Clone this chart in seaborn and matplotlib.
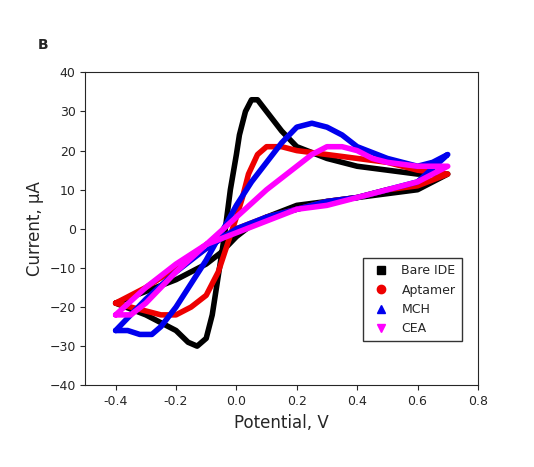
import matplotlib
matplotlib.use("Agg")
import matplotlib.pyplot as plt
import seaborn as sns
import pandas as pd
from matplotlib.lines import Line2D

bare_x = [-0.4,-0.3,-0.2,-0.1,-0.05,0.0,0.05,0.1,0.2,0.3,0.4,0.5,0.6,0.7, 0.7,0.6,0.5,0.4,0.3,0.2,0.15,0.1,0.07,0.05,0.03,0.01,0.0,-0.02,-0.04,-0.06,-0.08,-0.1,-0.13,-0.16,-0.2,-0.3,-0.4]
bare_y = [-19,-16,-13,-9,-6,-2,1,3,6,7,8,9,10,14, 14,14,15,16,18,21,25,30,33,33,30,24,19,10,-2,-12,-22,-28,-30,-29,-26,-22,-19]
apt_x = [-0.4,-0.3,-0.2,-0.1,0.0,0.1,0.2,0.3,0.4,0.5,0.6,0.7, 0.7,0.6,0.5,0.4,0.3,0.2,0.15,0.1,0.07,0.04,0.02,0.0,-0.03,-0.06,-0.1,-0.15,-0.2,-0.25,-0.3,-0.4]
apt_y = [-19,-15,-10,-5,0,3,5,7,8,10,11,14, 14,15,17,18,19,20,21,21,19,14,8,3,-4,-11,-17,-20,-22,-22,-21,-19]
mch_x = [-0.4,-0.3,-0.2,-0.1,0.0,0.1,0.2,0.3,0.4,0.5,0.6,0.7, 0.7,0.65,0.6,0.5,0.4,0.35,0.3,0.25,0.2,0.15,0.1,0.05,0.0,-0.05,-0.1,-0.15,-0.2,-0.25,-0.28,-0.32,-0.36,-0.4]
mch_y = [-26,-18,-11,-5,0,3,5,7,8,10,12,19, 19,17,16,18,21,24,26,27,26,22,17,12,6,-1,-8,-14,-20,-25,-27,-27,-26,-26]
cea_x = [-0.4,-0.3,-0.2,-0.1,0.0,0.1,0.2,0.3,0.4,0.5,0.6,0.7, 0.7,0.6,0.5,0.45,0.4,0.35,0.3,0.25,0.2,0.1,0.0,-0.1,-0.2,-0.25,-0.3,-0.35,-0.4]
cea_y = [-22,-15,-9,-4,-1,2,5,6,8,10,12,16, 16,16,17,18,20,21,21,19,16,10,3,-4,-11,-15,-19,-22,-22]

series = [("Bare IDE", bare_x, bare_y, "black", "s"),
          ("Aptamer", apt_x, apt_y, "#ee0000", "o"),
          ("MCH", mch_x, mch_y, "#0000ee", "^"),
          ("CEA", cea_x, cea_y, "#ff00ff", "v")]

sns.set_style("ticks")
fig, ax = plt.subplots(figsize=(5.34, 4.67), dpi=100)
fig.subplots_adjust(left=0.16, right=0.895, top=0.845, bottom=0.175)
for name, xs, ys, c, m in series:
    df = pd.DataFrame({"x": xs, "y": ys})
    sns.lineplot(data=df, x="x", y="y", sort=False, color=c, linewidth=4, ax=ax, estimator=None)
ax.set_xlim(-0.5, 0.8)
ax.set_ylim(-40, 40)
ax.set_xticks([-0.4,-0.2,0.0,0.2,0.4,0.6,0.8])
ax.set_xticklabels(["-0.4","-0.2","0.0","0.2","0.4","0.6","0.8"])
ax.set_yticks(range(-40, 41, 10))
ax.tick_params(labelsize=9)
ax.set_xlabel("Potential, V", fontsize=12)
ax.set_ylabel("Current, µA", fontsize=12)
handles = [Line2D([], [], color=c, marker=m, linestyle="none", markersize=6) for _, _, _, c, m in series]
ax.legend(handles, [s[0] for s in series], loc="lower right", bbox_to_anchor=(0.975, 0.12),
          fontsize=9, frameon=True, edgecolor="black", fancybox=False, handletextpad=0.6, borderpad=0.5)
fig.text(0.07, 0.895, "B", fontsize=10, fontweight="bold")
fig.savefig("out.png", dpi=100)
